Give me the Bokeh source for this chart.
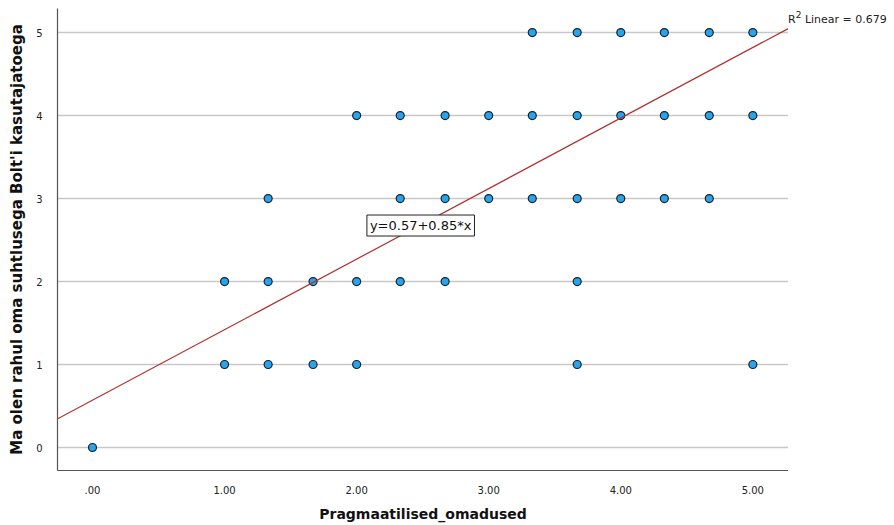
from bokeh.plotting import figure
from bokeh.models import Label, Range1d, FixedTicker, Slope, ColumnDataSource, Div
from bokeh.layouts import row
from bokeh.embed import file_html
from bokeh.resources import INLINE

# Data (x = Pragmaatilised_omadused, y = satisfaction)
x_vals = [3.33, 3.67, 4.00, 4.33, 4.67, 5.00,
          2.00, 2.33, 2.67, 3.00, 3.33, 3.67, 4.00, 4.33, 4.67, 5.00,
          1.33, 2.33, 2.67, 3.00, 3.33, 3.67, 4.00, 4.33, 4.67,
          1.00, 1.33, 1.67, 2.00, 2.33, 2.67, 3.67,
          1.00, 1.33, 1.67, 2.00, 3.67, 5.00,
          0.00]
y_vals = [5, 5, 5, 5, 5, 5,
          4, 4, 4, 4, 4, 4, 4, 4, 4, 4,
          3, 3, 3, 3, 3, 3, 3, 3, 3,
          2, 2, 2, 2, 2, 2, 2,
          1, 1, 1, 1, 1, 1,
          0]
intercept = 0.57
slope = 0.85
r2 = 0.679
x_ticks = [0, 1, 2, 3, 4, 5]
x_tick_labels = [".00", "1.00", "2.00", "3.00", "4.00", "5.00"]
y_ticks = [0, 1, 2, 3, 4, 5]

FONT = "DejaVu Sans"

p = figure(width=788, height=525, output_backend="svg", toolbar_location=None,
           x_range=Range1d(-0.265, 5.27), y_range=Range1d(-0.277, 5.29),
           min_border_left=57, min_border_right=0, min_border_top=8,
           min_border_bottom=55)
p.outline_line_color = None
p.background_fill_color = "white"

p.xgrid.visible = False
p.ygrid.ticker = FixedTicker(ticks=y_ticks)
p.ygrid.grid_line_color = "#c8c8c8"
p.ygrid.grid_line_width = 1.4

p.xaxis.ticker = FixedTicker(ticks=x_ticks)
p.xaxis.major_label_overrides = {t: l for t, l in zip(x_ticks, x_tick_labels)}
p.yaxis.ticker = FixedTicker(ticks=y_ticks)
for ax in (p.xaxis, p.yaxis):
    ax.major_tick_line_color = None
    ax.minor_tick_line_color = None
    ax.axis_line_color = "#555555"
    ax.axis_line_width = 1.2
    ax.major_label_text_font = FONT
    ax.major_label_text_font_size = "10px"
    ax.major_label_text_color = "#222222"
    ax.axis_label_text_font = FONT
    ax.axis_label_text_font_style = "bold"
    ax.axis_label_text_color = "#111111"

p.xaxis.axis_label = "Pragmaatilised_omadused"
p.yaxis.axis_label = "Ma olen rahul oma suhtlusega Bolt'i kasutajatoega"
p.xaxis.axis_label_text_font_size = "14px"
p.yaxis.axis_label_text_font_size = "15px"
p.xaxis.major_label_standoff = 9
p.xaxis.axis_label_standoff = 9
p.yaxis.major_label_standoff = 9
p.yaxis.axis_label_standoff = 7

p.add_layout(Slope(gradient=slope, y_intercept=intercept,
                   line_color="#b0302c", line_width=1.2))

src = ColumnDataSource(dict(x=x_vals, y=y_vals))
p.scatter("x", "y", source=src, size=8, fill_color="#29a4ec",
          line_color="#17232b", line_width=1.2)

p.add_layout(Label(x=2.485, y=2.675, text=f"y={intercept}+{slope}*x",
                   text_align="center", text_baseline="middle",
                   text_font=FONT, text_font_size="13px", text_color="#111111",
                   border_line_color="#222222", border_line_width=1,
                   background_fill_color="white", padding=3))

r2_div = Div(text=f"R<sup style='font-size:9px'>2</sup> Linear = {r2}", width=106, height=30,
             styles={"font-family": FONT, "font-size": "11px", "color": "#222222",
                     "margin-top": "9px", "margin-left": "0px", "padding-left": "0px",
                     "white-space": "nowrap"})

layout = row(p, r2_div, spacing=0)

open("out.html", "w").write(file_html(layout, INLINE))
